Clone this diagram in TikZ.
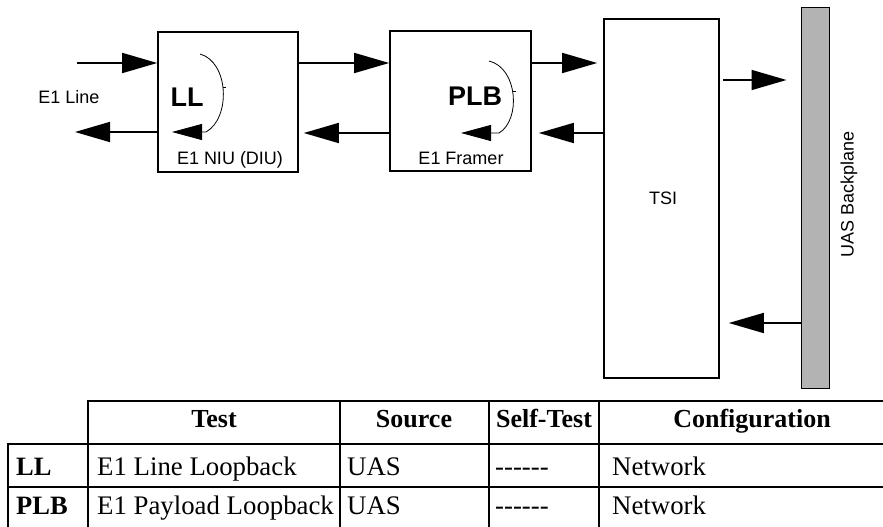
\documentclass[tikz,border=0pt]{standalone}
\usepackage{fontspec}
\setmainfont{Liberation Serif}
\setsansfont{Liberation Sans}
\usetikzlibrary{arrows.meta}
\definecolor{bpgray}{RGB}{179,179,179}
\newcommand{\dashrun}{-\kern0pt-\kern0pt-\kern0pt-\kern0pt-\kern0pt-}
\begin{document}
\begin{tikzpicture}[x=1pt,y=-1pt,
  blk/.style={draw, line width=1.6pt, inner sep=0pt},
  conn/.style={line width=1.6pt, -{Triangle[length=35pt,width=20pt]}},
  loopc/.style={line width=0.8pt, -{Triangle[length=30pt,width=16pt]}},
  lbl/.style={font=\sffamily\fontsize{18}{18}\selectfont, inner sep=0pt},
  big/.style={font=\sffamily\bfseries\fontsize{27}{27}\selectfont, inner sep=0pt},
  tline/.style={line width=1.6pt},
  th/.style={font=\rmfamily\bfseries\fontsize{26}{26}\selectfont, anchor=base, inner sep=0pt},
  td/.style={font=\rmfamily\fontsize{26.8}{27}\selectfont, anchor=base west, inner sep=0pt},
  tdb/.style={font=\rmfamily\bfseries\fontsize{26.5}{27}\selectfont, anchor=base west, inner sep=0pt},
]
\useasboundingbox (0,0) rectangle (883,527);

% blocks
\node[blk, minimum width=140pt, minimum height=140pt] (LL) at (228,102) {};
\node[blk, minimum width=141pt, minimum height=140pt] (PLB) at (460.5,101) {};
\node[blk, minimum width=115pt, minimum height=359pt] (TSI) at (661.5,198.5) {};
\node[draw, line width=1pt, fill=bpgray, inner sep=0pt, minimum width=28pt, minimum height=380pt] (BP) at (815,198) {};

% connectors
\coordinate (e1in) at (77,63);
\coordinate (e1out) at (75,132);
\draw[conn] (e1in) -- (e1in -| LL.west);
\draw[conn] (e1out -| LL.west) -- (e1out);
\draw[conn] (LL.east |- 0,63) -- (PLB.west |- 0,63);
\draw[conn, shorten >=5pt] (PLB.west |- 0,133) -- (LL.east |- 0,133);
\draw[conn, shorten >=6pt] (PLB.east |- 0,63) -- (TSI.west |- 0,63);
\draw[conn, shorten >=7pt] (TSI.west |- 0,133) -- (PLB.east |- 0,133);
\draw[conn, shorten <=3pt, shorten >=14pt] (TSI.east |- 0,80) -- (BP.west |- 0,80);
\draw[conn, shorten >=9pt] (BP.west |- 0,323) -- (TSI.east |- 0,323);

% loopbacks
\coordinate (llA) at (200,54);
\coordinate (llB) at (206,132);
\coordinate (llC) at (172,132);
\draw[loopc] (llA) .. controls (229,62) and (231,118) .. (llB) -- (llC);
\draw[line width=0.6pt] (223,87) -- (226,87);
\coordinate (plA) at (489,61);
\coordinate (plB) at (499,133);
\coordinate (plC) at (461,133);
\draw[loopc] (plA) .. controls (518,68) and (521,120) .. (plB) -- (plC);
\draw[line width=0.6pt] (513,91) -- (516,91);

% labels
\node[lbl] (e1line) at (69,97) {E1 Line};
\node[big] (llt) at (187,97) {LL};
\node[big] (plbt) at (475,96) {PLB};
\node[lbl] (niu) at (230,160) {E1 NIU (DIU)};
\node[lbl] (fr) at (461,158) {E1 Framer};
\node[lbl] (tsit) at (663,198) {TSI};
\node[lbl, rotate=90] (bpt) at (849,194) {UAS Backplane};

% table
\draw[tline] (88,527) -- (88,401) -- (883,401);
\draw[tline] (8,527) -- (8,444) -- (883,444);
\draw[tline] (8,487) -- (883,487);
\foreach \x in {340,489,599} \draw[tline] (\x,401) -- (\x,527);

\node[th] (hT) at (214,427) {Test};
\node[th] (hS) at (414,427) {Source};
\node[th] (hST) at (544,427) {Self-Test};
\node[th] (hC) at (752,427) {Configuration};

\node[tdb] (r1a) at (16,475) {LL};
\node[td] (r1b) at (97,475) {E1 Line Loopback};
\node[td] (r1c) at (347,475) {UAS};
\node[td] (r1d) at (495,475) {\dashrun};
\node[td] (r1e) at (612,475) {Network};

\node[tdb] (r2a) at (16,514) {PLB};
\node[td] (r2b) at (97,514) {E1 Payload Loopback};
\node[td] (r2c) at (347,514) {UAS};
\node[td] (r2d) at (495,514) {\dashrun};
\node[td] (r2e) at (612,514) {Network};
\end{tikzpicture}
\end{document}
